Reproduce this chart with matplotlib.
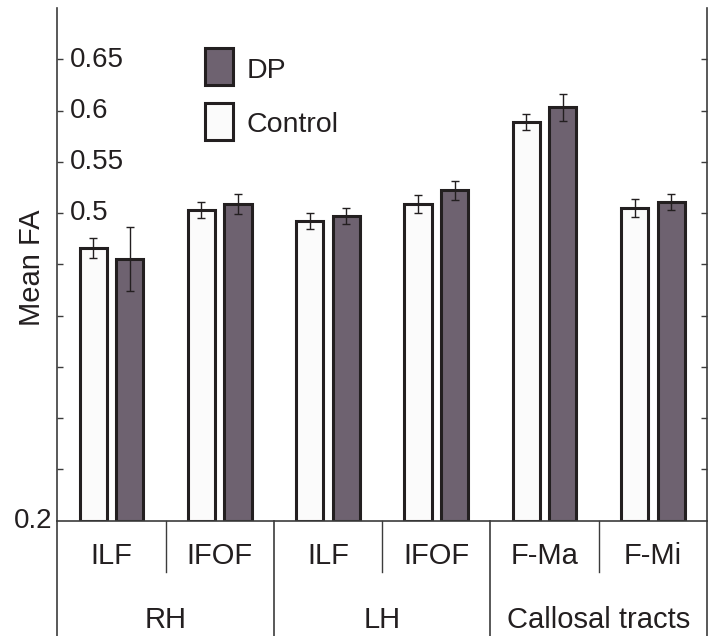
import matplotlib
matplotlib.use("Agg")
import matplotlib.pyplot as plt
import matplotlib.transforms as mtransforms
from matplotlib.patches import Rectangle
import numpy as np

plt.rcParams['font.family'] = ['Liberation Sans', 'DejaVu Sans']

# ---- data ----
tracts = ["ILF", "IFOF", "ILF", "IFOF", "F-Ma", "F-Mi"]
groups = ["RH", "LH", "Callosal tracts"]
control_mean = [0.466, 0.503, 0.492, 0.509, 0.589, 0.505]
control_err = [0.0095, 0.008, 0.008, 0.009, 0.008, 0.0085]
dp_mean = [0.455, 0.509, 0.497, 0.522, 0.603, 0.511]
dp_err = [0.031, 0.010, 0.0075, 0.0095, 0.013, 0.008]
ytick_vals = [0.25, 0.3, 0.35, 0.4, 0.45, 0.5, 0.55, 0.6, 0.65]
ytick_labels = ["0.5", "0.55", "0.6", "0.65"]
ytick_label_vals = [0.5, 0.55, 0.6, 0.65]

W, H = 716, 636
fig = plt.figure(figsize=(W / 100, H / 100), dpi=100)
left_px, right_px, top_px, base_px = 57.3, 707.0, 8.0, 520.5
ax = fig.add_axes([left_px / W, (H - base_px) / H, (right_px - left_px) / W, (base_px - top_px) / H])

ymin, ymax = 0.2, 0.7
ax.set_xlim(-0.5, 5.5)
ax.set_ylim(ymin, ymax)

dp_color = '#6e6270'
ctl_color = '#fbfbfb'
edge = '#231f20'
x = np.arange(len(tracts))
off = 0.169
bw = 0.25
ax.bar(x - off, np.array(control_mean) - ymin, bottom=ymin, width=bw, color=ctl_color,
       edgecolor=edge, linewidth=2.2, zorder=2)
ax.bar(x + off, np.array(dp_mean) - ymin, bottom=ymin, width=bw, color=dp_color,
       edgecolor=edge, linewidth=2.2, zorder=2)
ax.errorbar(x - off, control_mean, yerr=control_err, fmt='none', ecolor=edge,
            elinewidth=1.0, capsize=3.2, capthick=1.0, zorder=3)
ax.errorbar(x + off, dp_mean, yerr=dp_err, fmt='none', ecolor=edge,
            elinewidth=1.0, capsize=3.2, capthick=1.0, zorder=3)

# spines & ticks
spine_c = '#3c3c3c'
ax.spines['top'].set_visible(False)
for s in ['left', 'right', 'bottom']:
    ax.spines[s].set_color(spine_c)
    ax.spines[s].set_linewidth(1.2)
ax.set_xticks([])
ax.set_yticks(ytick_vals)
ax.set_yticklabels([])
ax.tick_params(axis='y', direction='in', length=4, width=1.0, color=spine_c,
               left=True, right=True)

ytr = mtransforms.blended_transform_factory(ax.transAxes, ax.transData)
px_to_y = (ymax - ymin) / (base_px - top_px)
for v, lab in zip(ytick_label_vals, ytick_labels):
    ax.text((70 - left_px) / (right_px - left_px), v - 7.4 * px_to_y, lab,
            transform=ytr, ha='left', va='baseline', fontsize=20, color='#231f20')
ax.text((52 - left_px) / (right_px - left_px), ymin - 7.5 * px_to_y, "0.2",
        transform=ytr, ha='right', va='baseline', fontsize=20, color='#231f20',
        clip_on=False)

fig.text(31.7 / W, 1 - 267.8 / H, "Mean FA", rotation=90, ha='center', va='center',
         fontsize=21, color='#231f20')

# category table below the axis
xtr = mtransforms.blended_transform_factory(ax.transData, ax.transAxes)
ah = base_px - top_px
def ay(py):
    return -(py - base_px) / ah
sep_c = '#3c3c3c'
for xs in [0.5, 2.5, 4.5]:
    ax.plot([xs, xs], [0, ay(572)], transform=xtr, color=sep_c, lw=1.0, clip_on=False)
for xs in [-0.5, 1.5, 3.5, 5.5]:
    ax.plot([xs, xs], [0, ay(H)], transform=xtr, color=sep_c, lw=1.2, clip_on=False)
for xi, t in zip(x, tracts):
    ax.text(xi, ay(564), t, transform=xtr, ha='center', va='baseline', fontsize=21,
            color='#231f20', clip_on=False)
for gi, g in enumerate(groups):
    ax.text(2 * gi + 0.5, ay(628.3), g, transform=xtr, ha='center', va='baseline',
            fontsize=21, color='#231f20', clip_on=False)

# legend (DP above Control)
def fx(px):
    return px / W
def fy(py):
    return 1 - py / H
leg_items = [("DP", dp_color, 46.7, 77.7), ("Control", ctl_color, 101.7, 131.5)]
for lab, col, ptop, base in leg_items:
    fig.patches.append(Rectangle((fx(204.5), fy(ptop + 40 - 1.5)), 28 / W, 37 / H,
                                 transform=fig.transFigure, facecolor=col,
                                 edgecolor=edge, linewidth=2.2))
    fig.text(fx(246.7), fy(base), lab, ha='left', va='baseline', fontsize=20.5,
             color='#231f20')

fig.savefig("out.png", dpi=100)
